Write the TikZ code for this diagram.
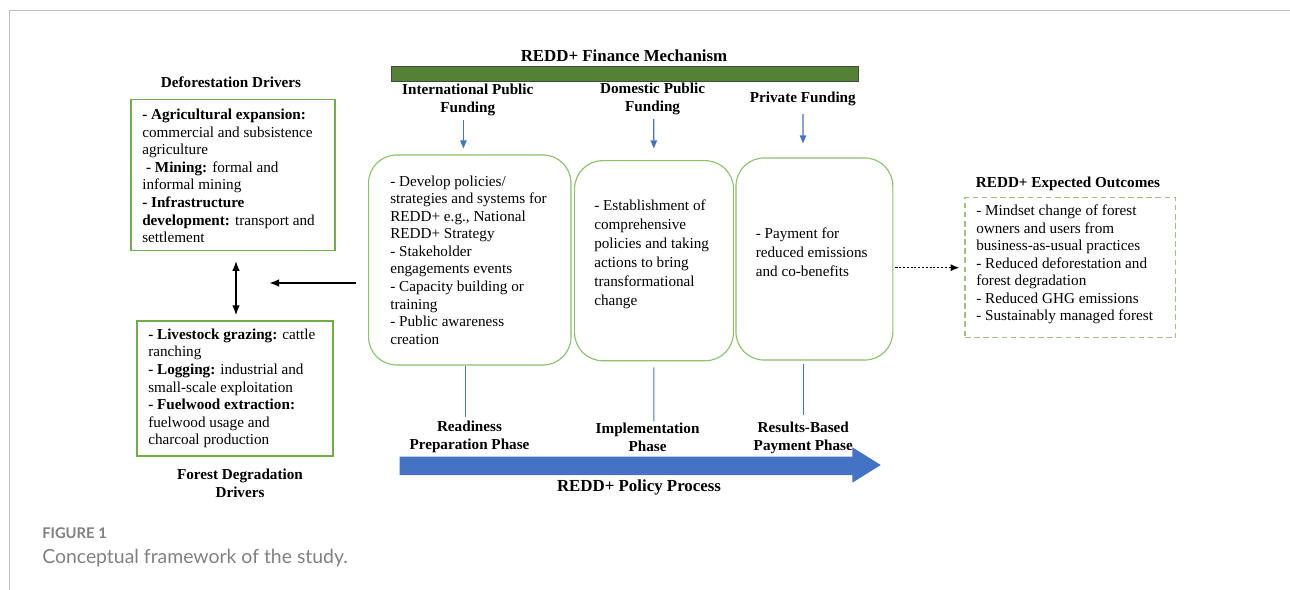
\documentclass[tikz,border=0pt]{standalone}
\usepackage{fontspec}
\setmainfont{Liberation Serif}
\newfontfamily\capfont{Lato}
\usetikzlibrary{arrows.meta,calc}

\definecolor{boxgreen}{HTML}{70AD47}
\definecolor{phasegreen}{HTML}{8CC06A}
\definecolor{bargreen}{HTML}{548235}
\definecolor{bardark}{HTML}{3A4D4A}
\definecolor{outgreen}{HTML}{A3BE80}
\definecolor{flowblue}{HTML}{4472C4}
\definecolor{capgray}{HTML}{808080}
\definecolor{framegray}{HTML}{BFBFBF}

\tikzset{
  >={Latex[length=2.5mm,width=1.9mm]},
  body/.style={font=\fontsize{10.8}{12.5}\selectfont, align=left, inner sep=0pt, anchor=west},
  bodywide/.style={body, font=\fontsize{10.8}{13.5}\selectfont},
  head/.style={font=\fontsize{10.8}{12.8}\selectfont\bfseries, align=center, inner sep=0pt},
  bighead/.style={font=\fontsize{12}{14}\selectfont\bfseries, inner sep=0pt},
  drvbox/.style={draw=boxgreen, line width=0.8pt, inner sep=0pt},
  phasebox/.style={draw=phasegreen, line width=0.8pt, rounded corners=0.7cm, inner sep=0pt},
  outbox/.style={draw=outgreen, line width=0.9pt, dash pattern=on 4pt off 2.5pt, inner sep=0pt},
  fundarr/.style={flowblue, line width=0.9pt, -{Triangle[length=2mm,width=1.6mm]}},
  phaseline/.style={flowblue, line width=0.7pt},
  blkarr/.style={line width=1.3pt},
  dotarr/.style={line width=1pt, dash pattern=on 1.5pt off 1.2pt, -{Latex[length=2.2mm,width=1.8mm]}},
  capline/.style={text=capgray, anchor=west, inner sep=0pt}
}

\begin{document}
\begin{tikzpicture}[x=0.025cm, y=-0.025cm]
   \useasboundingbox (0,0) rectangle (1290,590);
   \draw [framegray, line width=0.6pt] (9,590) -- (9,10) -- (1290,10);

   % finance mechanism
   \node [bighead] (fin) at (624,56) {REDD+ Finance Mechanism};
   \draw [bardark, fill=bargreen, line width=0.8pt]
      (391.6,66.7) rectangle (858.3,81.7);
   \node [head] (f1) at (467.8,100) {International Public\\Funding};
   \node [head] (f2) at (652.6,99) {Domestic Public\\Funding};
   \node [head] (f3) at (802.8,99) {Private Funding};

   % phase boxes
   \node [phasebox, minimum width=5.06cm, minimum height=5.25cm] (b1) at (469.8,260) {};
   \node [phasebox, minimum width=3.97cm, minimum height=5cm] (b2) at (654,260.7) {};
   \node [phasebox, minimum width=3.92cm, minimum height=5.05cm] (b3) at (814.4,259) {};
   \node [body] (b1txt) at (390,260) {- Develop policies/\\strategies and systems for\\REDD+ e.g., National\\REDD+ Strategy\\- Stakeholder\\engagements events\\- Capacity building or\\training\\- Public awareness\\creation};
   \node [bodywide] (b2txt) at (594,254.5) {- Establishment of\\comprehensive\\policies and taking\\actions to bring\\transformational\\change};
   \node [bodywide] (b3txt) at (755.5,252) {- Payment for\\reduced emissions\\and co-benefits};

   \draw [fundarr] ($(f1.south)+(-4.4,4)$) -- ($(b1.north)+(-6.4,-6)$);
   \draw [fundarr] ($(f2.south)+(1.2,4)$) -- ($(b2.north)+(-0.2,-11.7)$);
   \draw [fundarr] ($(f3.south)+(0.2,8)$) -- ($(b3.north)+(-11.4,-14)$);

   % policy process
   \node [head] (p1) at (469.5,436.5) {Readiness\\Preparation Phase};
   \node [head] (p2) at (647.6,437.5) {Implementation\\Phase};
   \node [head] (p3) at (803.3,437.5) {Results-Based\\Payment Phase};
   \draw [phaseline] ($(b1.south)+(-4.8,0)$) -- ($(p1.north)+(-4.5,-3.5)$);
   \draw [phaseline] ($(b2.south)+(-0.2,6)$) -- ($(p2.north)+(6.2,-1.5)$);
   \draw [phaseline] ($(b3.south)+(-10.6,3)$) -- ($(p3.north)+(0.5,-6.5)$);
   \fill [flowblue]
      (399.7,456.7) -- (852.4,456.7) -- (852.4,447.3) -- (880.7,465)
      -- (852.4,482.7) -- (852.4,475) -- (399.7,475) -- cycle;
   \node [bighead] (pol) at (639,487) {REDD+ Policy Process};

   % drivers
   \node [head] (ddt) at (231,82) {Deforestation Drivers};
   \node [drvbox, minimum width=5.1cm, minimum height=3.775cm] (dd) at (233,174.7) {};
   \node [body] (ddtxt) at (142,176) {\textbf{- Agricultural expansion:}\\commercial and subsistence\\agriculture\\\ \textbf{- Mining:} formal and\\informal mining\\\textbf{- Infrastructure}\\\textbf{development:} transport and\\settlement};
   \node [drvbox, minimum width=4.9cm, minimum height=3.375cm] (fd) at (235,388.5) {};
   \node [body] (fdtxt) at (148,388.5) {\textbf{- Livestock grazing:} cattle\\ranching\\\textbf{- Logging:} industrial and\\small-scale exploitation\\\textbf{- Fuelwood extraction:}\\fuelwood usage and\\charcoal production};
   \node [head] (fdt) at (240,483) {Forest Degradation\\Drivers};
   \coordinate (drv) at (269,283);
   \draw [blkarr, ->, shorten <=0.3cm] (b1.west |- drv) -- (drv);
   \draw [blkarr, <->, shorten <=0.25cm, shorten >=0.125cm]
      ($(dd.south)+(3,0)$) -- ($(fd.north)+(1,0)$);

   % outcomes
   \node [head] (outt) at (1068,184) {REDD+ Expected Outcomes};
   \node [outbox, minimum width=5.27cm, minimum height=3.5cm] (out) at (1070.4,267.7) {};
   \node [body] (outtxt) at (976,264.5) {- Mindset change of forest\\owners and users from\\business-as-usual practices\\- Reduced deforestation and\\forest degradation\\- Reduced GHG emissions\\- Sustainably managed forest};
   \draw [dotarr, shorten <=0.05cm, shorten >=0.125cm] (b3.east |- out.west) -- (out.west);

   % caption
   \node [capline, font=\capfont\bfseries\fontsize{10.5}{12}\selectfont] (figno) at (42,533) {FIGURE 1};
   \node [capline, font=\capfont\fontsize{13.8}{16}\selectfont] (cap) at (42,558) {Conceptual framework of the study.};
\end{tikzpicture}
\end{document}
